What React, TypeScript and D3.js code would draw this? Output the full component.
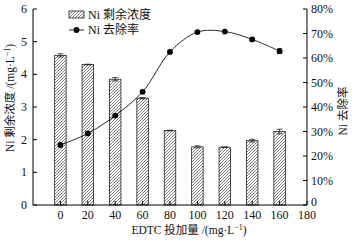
import React from "react";
import * as d3 from "d3";

const doses = [0, 20, 40, 60, 80, 100, 120, 140, 160];
const residual = [4.58, 4.3, 3.85, 3.27, 2.28, 1.78, 1.77, 1.97, 2.25];
const residualErr = [0.05, 0.01, 0.05, 0.02, 0.01, 0.03, 0.01, 0.04, 0.07];
const removal = [24.5, 29.2, 36.5, 46.2, 62.5, 70.6, 70.8, 67.6, 62.8];
const removalErr = [0.6, 0.4, 0.4, 0.4, 0.5, 0.6, 0.4, 0.6, 1.0];
const xTicks = [0, 20, 40, 60, 80, 100, 120, 140, 160, 180];
const yLeftTicks = [0, 1, 2, 3, 4, 5, 6];
const yRightTicks = [0, 10, 20, 30, 40, 50, 60, 70, 80];

const W = 354;
const H = 242;
const left = 33;
const right = 307;
const top = 9;
const bottom = 205;

const serif = "'Liberation Serif', 'DejaVu Serif', serif";
const cjk = "'Liberation Serif', 'Noto Sans CJK SC', serif";

export default function App() {
  const x = d3.scaleLinear().domain([-20, 180]).range([left, right]);
  const yL = d3.scaleLinear().domain([0, 6]).range([bottom, top]);
  const yR = d3.scaleLinear().domain([0, 80]).range([bottom, top]);
  const barW = 11.5;

  const line = d3
    .line<number>()
    .x((_, i) => x(doses[i]))
    .y((d) => yR(d))
    .curve(d3.curveCatmullRom.alpha(0.5));

  return (
    <svg
      width={W}
      height={H}
      style={{ position: "absolute", left: 0, top: 0, background: "#fff" }}
      fontFamily={serif}
    >
      <defs>
        <pattern id="hatch" patternUnits="userSpaceOnUse" width={3} height={3}>
          <rect width={3} height={3} fill="#fff" />
          <path d="M0,3 L3,0 M-1,1 L1,-1 M2,4 L4,2" stroke="#444" strokeWidth={0.7} />
        </pattern>
      </defs>

      {/* bars */}
      {doses.map((d, i) => (
        <g key={"b" + i}>
          <rect
            x={x(d) - barW / 2}
            y={yL(residual[i])}
            width={barW}
            height={bottom - yL(residual[i])}
            fill="url(#hatch)"
            stroke="#222"
            strokeWidth={0.8}
          />
          <line x1={x(d)} x2={x(d)} y1={yL(residual[i] + residualErr[i])} y2={yL(residual[i] - residualErr[i])} stroke="#222" strokeWidth={0.8} />
          <line x1={x(d) - 3} x2={x(d) + 3} y1={yL(residual[i] + residualErr[i])} y2={yL(residual[i] + residualErr[i])} stroke="#222" strokeWidth={0.8} />
          <line x1={x(d) - 3} x2={x(d) + 3} y1={yL(residual[i] - residualErr[i])} y2={yL(residual[i] - residualErr[i])} stroke="#222" strokeWidth={0.8} />
        </g>
      ))}

      {/* line */}
      <path d={line(removal) || ""} fill="none" stroke="#111" strokeWidth={0.9} />
      {doses.map((d, i) => (
        <g key={"p" + i}>
          <line x1={x(d) - 2.5} x2={x(d) + 2.5} y1={yR(removal[i] + removalErr[i])} y2={yR(removal[i] + removalErr[i])} stroke="#111" strokeWidth={0.8} />
          <line x1={x(d) - 2.5} x2={x(d) + 2.5} y1={yR(removal[i] - removalErr[i])} y2={yR(removal[i] - removalErr[i])} stroke="#111" strokeWidth={0.8} />
          <line x1={x(d)} x2={x(d)} y1={yR(removal[i] + removalErr[i])} y2={yR(removal[i] - removalErr[i])} stroke="#111" strokeWidth={0.8} />
          <circle cx={x(d)} cy={yR(removal[i])} r={2.9} fill="#000" />
        </g>
      ))}

      {/* axes */}
      <line x1={left} x2={right} y1={bottom} y2={bottom} stroke="#000" strokeWidth={1} />
      <line x1={left} x2={left} y1={top} y2={bottom} stroke="#000" strokeWidth={1} />
      <line x1={right} x2={right} y1={top} y2={bottom} stroke="#000" strokeWidth={1} />

      {xTicks.map((t) => (
        <g key={"xt" + t}>
          <line x1={x(t)} x2={x(t)} y1={bottom} y2={bottom - 4} stroke="#000" strokeWidth={1} />
          <text x={x(t)} y={bottom + 14} fontSize={12} textAnchor="middle" fill="#111">
            {t}
          </text>
        </g>
      ))}
      {yLeftTicks.map((t) => (
        <g key={"yl" + t}>
          <line x1={left} x2={left + 4} y1={yL(t)} y2={yL(t)} stroke="#000" strokeWidth={1} />
          <text x={left - 6} y={yL(t) + 4} fontSize={12} textAnchor="end" fill="#111">
            {t}
          </text>
        </g>
      ))}
      {yRightTicks.map((t) => (
        <g key={"yr" + t}>
          <line x1={right - 4} x2={right} y1={yR(t)} y2={yR(t)} stroke="#000" strokeWidth={1} />
          <text x={right + 4} y={yR(t) + (t === 0 ? 1 : 4)} fontSize={12} textAnchor="start" fill="#111">
            {t === 0 ? "0" : t + "%"}
          </text>
        </g>
      ))}

      {/* axis titles */}
      <text
        transform={`translate(14,98) rotate(-90)`}
        fontSize={11.5}
        textAnchor="middle"
        fontFamily={cjk}
        fill="#111"
      >
        Ni 剩余浓度 /(mg·L<tspan dy={-4} fontSize={8}>−1</tspan><tspan dy={4}>)</tspan>
      </text>
      <text
        transform={`translate(347,111) rotate(-90)`}
        fontSize={11.5}
        textAnchor="middle"
        fontFamily={cjk}
        fill="#111"
      >
        Ni 去除率
      </text>
      <text x={189} y={234} fontSize={11.5} textAnchor="middle" fontFamily={cjk} fill="#111">
        EDTC 投加量 /(mg·L<tspan dy={-4} fontSize={8}>−1</tspan><tspan dy={4}>)</tspan>
      </text>

      {/* legend */}
      <rect x={69} y={11} width={15} height={7} fill="url(#hatch)" stroke="#222" strokeWidth={0.8} />
      <text x={88} y={19} fontSize={12} fontFamily={cjk} fill="#111">
        Ni 剩余浓度
      </text>
      <line x1={69} x2={84} y1={30} y2={30} stroke="#111" strokeWidth={0.9} />
      <circle cx={76.5} cy={30} r={2.9} fill="#000" />
      <text x={88} y={34} fontSize={12} fontFamily={cjk} fill="#111">
        Ni 去除率
      </text>
    </svg>
  );
}
